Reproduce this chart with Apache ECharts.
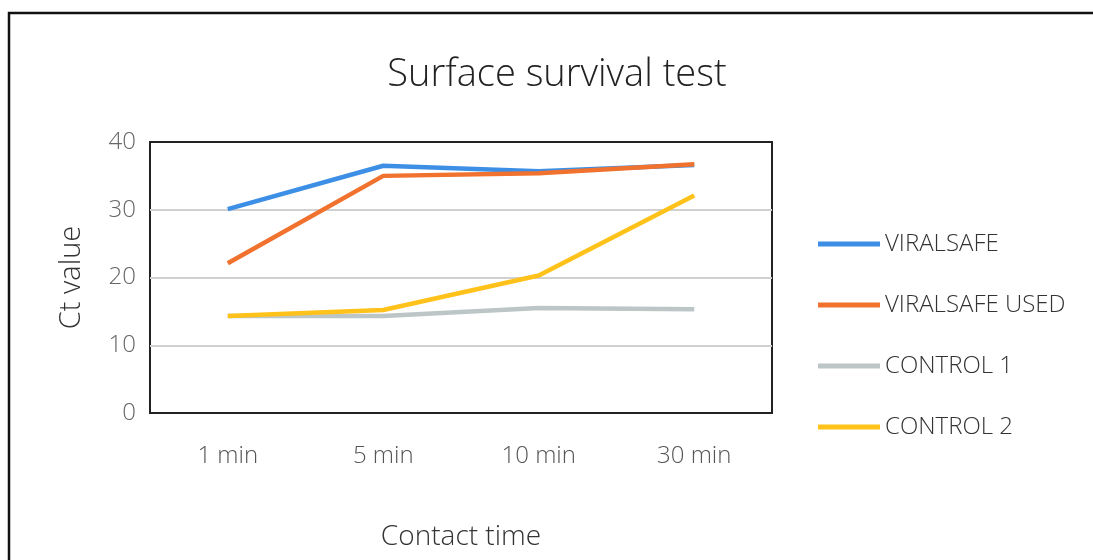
<!DOCTYPE html>
<html><head><meta charset="utf-8">
<script src="https://cdn.jsdelivr.net/npm/echarts@6/dist/echarts.min.js"></script>
<style>html,body{margin:0;padding:0;background:#fff}#c{width:1093px;height:560px}</style>
</head><body><div id="c"></div>
<script>
const categories = ['1 min', '5 min', '10 min', '30 min'];
const viralsafe = [30.1, 36.5, 35.7, 36.6];
const viralsafeUsed = [22.1, 35.0, 35.4, 36.7];
const control1 = [14.3, 14.3, 15.5, 15.3];
const control2 = [14.3, 15.2, 20.3, 32.1];
const seriesNames = ['VIRALSAFE', 'VIRALSAFE USED', 'CONTROL 1', 'CONTROL 2'];
const colors = ['#3D8FE6', '#F0722E', '#BCC6C6', '#FFC21A'];
const font = '"Open Sans", "Noto Sans", sans-serif';

const chart = echarts.init(document.getElementById('c'));
const data = [viralsafe, viralsafeUsed, control1, control2];
chart.setOption({
  animation: false,
  color: colors,
  title: {
    text: 'Surface survival test', left: 552, top: 51, textAlign: 'center',
    textStyle: {fontFamily: font, fontSize: 38, fontWeight: 300, color: '#222'}
  },
  graphic: [{
    type: 'rect', shape: {x: 9, y: 13, width: 1100, height: 560},
    style: {fill: 'none', stroke: '#111', lineWidth: 2.5}, silent: true
  }],
  legend: {
    orient: 'vertical', left: 813, top: 227, itemGap: 37,
    itemWidth: 62, itemHeight: 5,
    icon: 'rect',
    textStyle: {fontFamily: font, fontSize: 24, fontWeight: 300, color: '#333', padding: [0, 0, 0, 0]},
    data: seriesNames
  },
  grid: {left: 150, right: 321, top: 142, bottom: 147, show: true, borderColor: '#222', borderWidth: 2},
  xAxis: {
    type: 'category', data: categories, boundaryGap: true,
    name: 'Contact time', nameLocation: 'middle', nameGap: 110,
    nameTextStyle: {fontFamily: font, fontSize: 28, fontWeight: 300, color: '#333'},
    axisLine: {show: false}, axisTick: {show: false},
    axisLabel: {fontFamily: font, fontSize: 24, fontWeight: 300, color: '#555', margin: 31}
  },
  yAxis: {
    type: 'value', min: 0, max: 40, interval: 10,
    name: 'Ct value', nameLocation: 'middle', nameGap: 64,
    nameTextStyle: {fontFamily: font, fontSize: 29, fontWeight: 300, color: '#333'},
    axisLine: {show: false}, axisTick: {show: false},
    axisLabel: {fontFamily: font, fontSize: 24, fontWeight: 300, color: '#666', margin: 14},
    splitLine: {showMinLine: false, showMaxLine: false, lineStyle: {color: '#d0d0d0', width: 2}}
  },
  series: seriesNames.map((n, i) => ({
    name: n, type: 'line', data: data[i], showSymbol: false, symbol: 'none',
    lineStyle: {width: 4.5, color: colors[i]}, z: 2 + i
  }))
});
</script></body></html>
